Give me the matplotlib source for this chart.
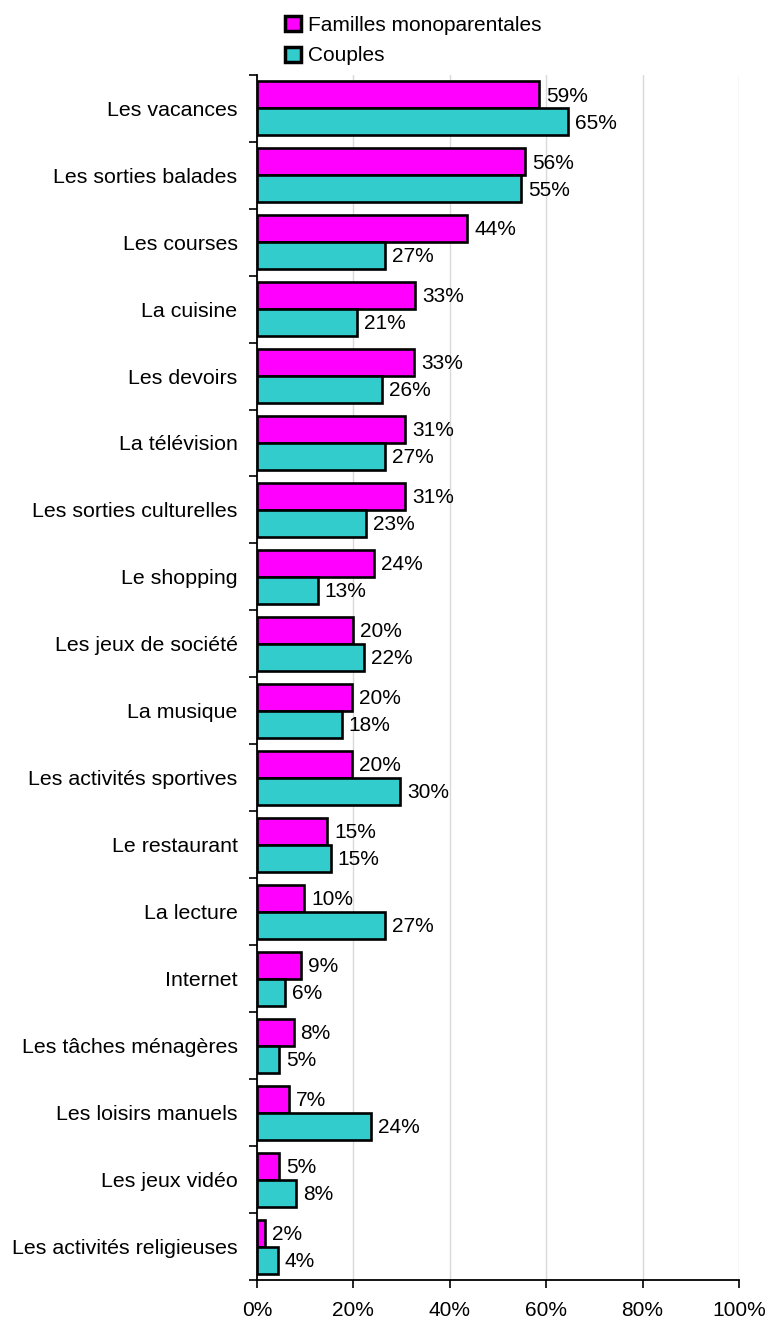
import matplotlib
matplotlib.use("Agg")
import matplotlib.pyplot as plt
from matplotlib.patches import Patch
from matplotlib.ticker import FixedLocator, FuncFormatter
import numpy as np

plt.rcParams['font.family'] = ['Liberation Sans', 'DejaVu Sans']

categories = [
    "Les vacances", "Les sorties balades", "Les courses", "La cuisine",
    "Les devoirs", "La télévision", "Les sorties culturelles", "Le shopping",
    "Les jeux de société", "La musique", "Les activités sportives",
    "Le restaurant", "La lecture", "Internet", "Les tâches ménagères",
    "Les loisirs manuels", "Les jeux vidéo", "Les activités religieuses",
]
monoparentales = [58.6, 55.6, 43.6, 32.8, 32.6, 30.8, 30.8, 24.3, 20.0, 19.7,
                  19.7, 14.6, 9.8, 9.2, 7.6, 6.6, 4.6, 1.6]
couples = [64.6, 54.8, 26.6, 20.7, 25.9, 26.6, 22.6, 12.6, 22.2, 17.6,
           29.7, 15.3, 26.6, 5.9, 4.6, 23.6, 8.1, 4.3]
series_names = ["Familles monoparentales", "Couples"]
colors = ["#FF00FF", "#33CCCC"]
xticks = [0, 20, 40, 60, 80, 100]

W, H = 767, 1322
fig = plt.figure(figsize=(W / 100, H / 100), dpi=100)
left, right, top, bottom = 257, 739, 74.7, 1280
ax = fig.add_axes([left / W, 1 - bottom / H, (right - left) / W, (bottom - top) / H])

n = len(categories)
y = np.arange(n)
bh = 0.403
fs = 15
lw = 1.9

for vals, off, col in [(monoparentales, -bh / 2, colors[0]), (couples, bh / 2, colors[1])]:
    ax.barh(y + off, vals, height=bh, color=col, edgecolor="black", linewidth=lw, zorder=3)
    for yi, v in zip(y, vals):
        ax.annotate(f"{v:.0f}%", xy=(v, yi + off), xytext=(5, -1), textcoords="offset points",
                    ha="left", va="center", fontsize=fs, zorder=4)

ax.set_xlim(0, 100)
ax.set_ylim(n - 0.5, -0.5)
ax.set_xticks(xticks)
ax.xaxis.set_major_formatter(FuncFormatter(lambda v, p: f"{v:.0f}%"))
ax.set_yticks(y)
ax.set_yticklabels(categories)
ax.yaxis.set_minor_locator(FixedLocator(np.arange(-0.5, n, 1.0)))
ax.tick_params(axis="y", which="major", length=0, pad=14, labelsize=15.4)
ax.tick_params(axis="y", which="minor", length=6, width=1.2, direction="out")
ax.tick_params(axis="x", which="major", length=6, width=1.2, direction="out", pad=9, labelsize=fs)

ax.grid(axis="x", color="#D9D9D9", linewidth=1.0, zorder=0)
ax.set_axisbelow(True)
for s in ["top", "right"]:
    ax.spines[s].set_visible(False)
for s in ["left", "bottom"]:
    ax.spines[s].set_linewidth(1.3)
    ax.spines[s].set_zorder(5)

handles = [Patch(facecolor=c, edgecolor="black", linewidth=lw + 0.6) for c in colors]
fig.legend(handles, series_names, loc="upper left", bbox_to_anchor=(285 / W, 1 - 16 / H),
           frameon=False, fontsize=fs, handlelength=0.75, handleheight=0.75,
           handletextpad=0.35, labelspacing=0.55, borderaxespad=0, borderpad=0)

fig.savefig("out.png", dpi=100)
